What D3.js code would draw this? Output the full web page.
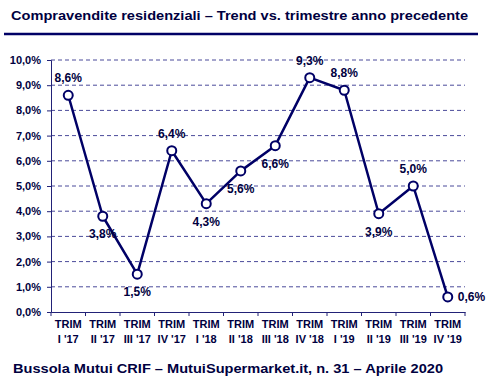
<!DOCTYPE html>
<html>
<head>
<meta charset="utf-8">
<script src="https://cdn.jsdelivr.net/npm/d3@7"></script>
<style>
  body { margin: 0; background: #fff; }
  svg { display: block; font-family: Arial, "Liberation Sans", sans-serif; font-weight: bold; }
</style>
</head>
<body>
<svg id="chart" width="500" height="386"></svg>
<script>
// data
const quarters = ["I '17", "II '17", "III '17", "IV '17", "I '18", "II '18", "III '18", "IV '18", "I '19", "II '19", "III '19", "IV '19"];
const values = [8.6, 3.8, 1.5, 6.4, 4.3, 5.6, 6.6, 9.3, 8.8, 3.9, 5.0, 0.6];
const yTicks = [0, 1, 2, 3, 4, 5, 6, 7, 8, 9, 10];

const title = 'Compravendite residenziali \u2013 Trend vs. trimestre anno precedente';
const source = 'Bussola Mutui CRIF \u2013 MutuiSupermarket.it, n. 31 \u2013 Aprile 2020';

const navy = '#000066';
const textColor = '#000040';
const fmt = (v) => v.toFixed(1).replace('.', ',') + '%';

const svg = d3.select('#chart');

const x = d3.scaleBand().domain(quarters).range([51, 465]);
const y = d3.scaleLinear().domain([0, 10]).range([312, 60]);

// header
svg.append('text')
  .attr('x', 11)
  .attr('y', 20)
  .attr('font-size', 13)
  .attr('fill', textColor)
  .attr('textLength', 457)
  .attr('lengthAdjust', 'spacingAndGlyphs')
  .text(title);

svg.append('line')
  .attr('x1', 4).attr('x2', 478)
  .attr('y1', 34).attr('y2', 34)
  .attr('stroke', navy)
  .attr('stroke-width', 2.5);

// grid
svg.append('g')
  .selectAll('line')
  .data(yTicks.filter((d) => d > 0))
  .join('line')
  .attr('x1', 51).attr('x2', 465)
  .attr('y1', (d) => y(d)).attr('y2', (d) => y(d))
  .attr('stroke', '#4a4a9a')
  .attr('stroke-width', 1)
  .attr('stroke-dasharray', '4,3');

// y axis
const yAxis = svg.append('g')
  .attr('transform', 'translate(51,0)')
  .call(d3.axisLeft(y).tickValues(yTicks).tickSize(4).tickPadding(6).tickFormat(fmt));
yAxis.select('.domain').attr('stroke', '#222277');
yAxis.selectAll('.tick line').attr('stroke', '#222277');
yAxis.selectAll('text')
  .attr('font-size', 11)
  .attr('font-family', 'Arial, "Liberation Sans", sans-serif')
  .attr('font-weight', 'bold')
  .attr('fill', textColor);

// x axis
const xAxis = svg.append('g')
  .attr('transform', 'translate(0,312)')
  .call(d3.axisBottom(x).tickSize(0).tickFormat(''));
xAxis.select('.domain').attr('stroke', '#222277');

svg.append('g')
  .selectAll('line')
  .data(d3.range(quarters.length + 1))
  .join('line')
  .attr('x1', (i) => 51 + i * x.step())
  .attr('x2', (i) => 51 + i * x.step())
  .attr('y1', 312).attr('y2', 316)
  .attr('stroke', '#222277');

const xLabels = svg.append('g')
  .selectAll('text')
  .data(quarters)
  .join('text')
  .attr('text-anchor', 'middle')
  .attr('font-size', 11)
  .attr('fill', textColor)
  .attr('transform', (d) => `translate(${x(d) + x.bandwidth() / 2},0)`);
xLabels.append('tspan').attr('x', 0).attr('y', 328).text('TRIM');
xLabels.append('tspan').attr('x', 0).attr('y', 343).text((d) => d);

// line
const cx = (i) => x(quarters[i]) + x.bandwidth() / 2;
svg.append('path')
  .datum(values)
  .attr('fill', 'none')
  .attr('stroke', navy)
  .attr('stroke-width', 2.5)
  .attr('stroke-linejoin', 'round')
  .attr('d', d3.line().x((d, i) => cx(i)).y((d) => y(d)));

svg.append('g')
  .selectAll('circle')
  .data(values)
  .join('circle')
  .attr('cx', (d, i) => cx(i))
  .attr('cy', (d) => y(d))
  .attr('r', 4.5)
  .attr('fill', '#fff')
  .attr('stroke', navy)
  .attr('stroke-width', 2);

// data labels: a = above, b = below, r = right
const side = ['a', 'b', 'b', 'a', 'b', 'b', 'b', 'a', 'a', 'b', 'a', 'r'];
svg.append('g')
  .selectAll('text')
  .data(values)
  .join('text')
  .attr('font-size', 12)
  .attr('fill', textColor)
  .attr('text-anchor', (d, i) => (side[i] === 'r' ? 'start' : 'middle'))
  .attr('x', (d, i) => (side[i] === 'r' ? cx(i) + 10 : cx(i)))
  .attr('y', (d, i) => {
    const p = y(d);
    if (side[i] === 'a') return p - 13;
    if (side[i] === 'b') return p + 22;
    return p + 4;
  })
  .text(fmt);

// footer
svg.append('text')
  .attr('x', 13)
  .attr('y', 373)
  .attr('font-size', 13)
  .attr('fill', textColor)
  .attr('textLength', 430)
  .attr('lengthAdjust', 'spacingAndGlyphs')
  .text(source);
</script>
</body>
</html>
